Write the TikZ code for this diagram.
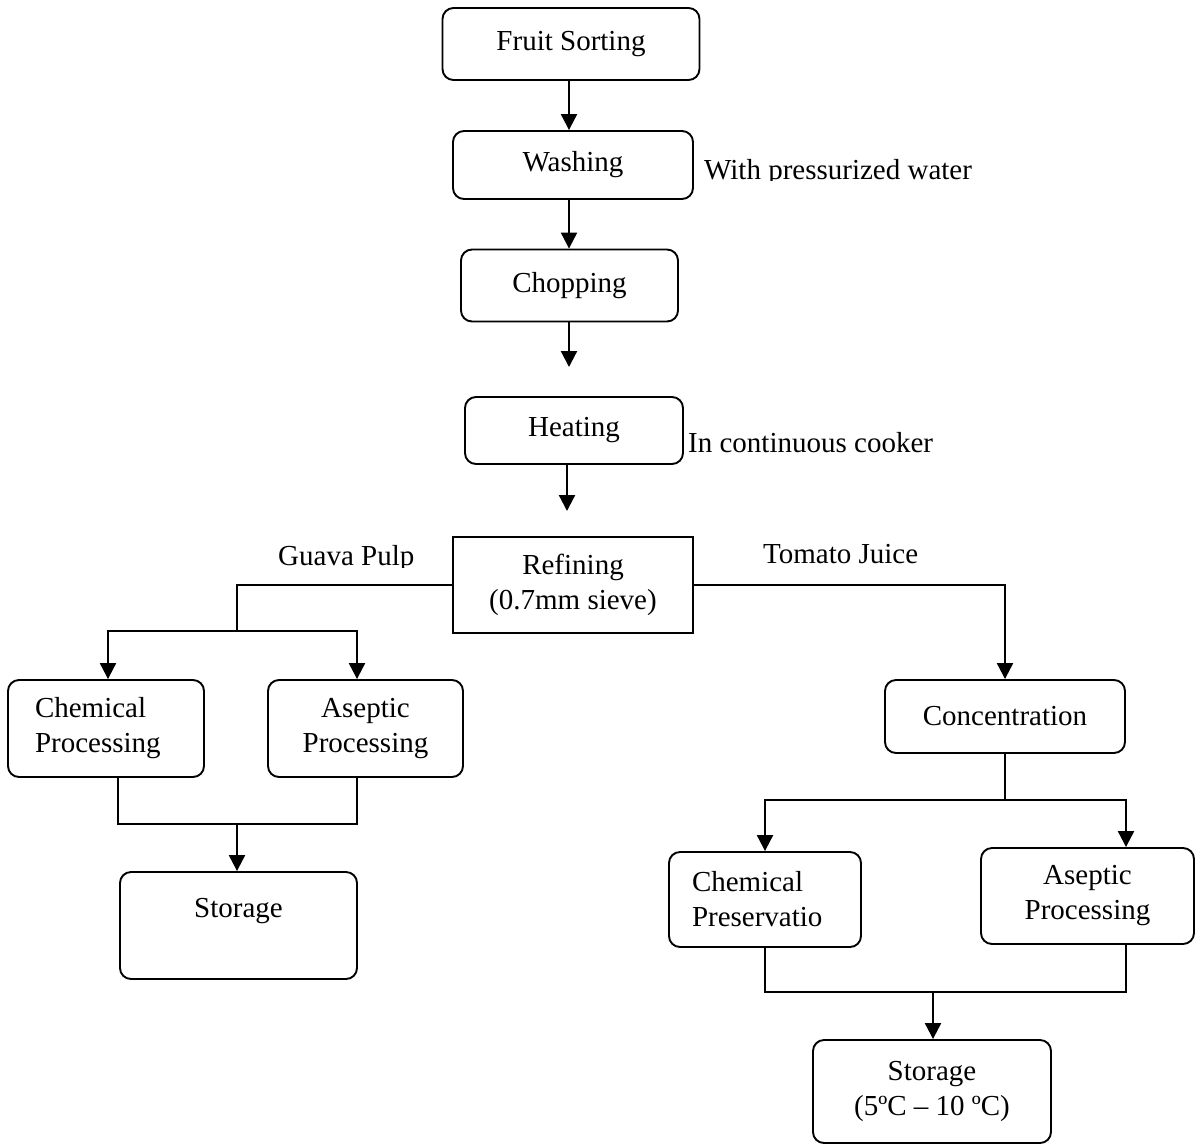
\documentclass[tikz,border=0pt]{standalone}
\usepackage{fontspec}
\setmainfont{Liberation Serif}
\usetikzlibrary{arrows.meta}
\begin{document}
\begin{tikzpicture}[x=1pt,y=-1pt,
  every node/.style={font=\fontsize{29}{35}\selectfont},
  box/.style={draw, line width=1.9pt, rounded corners=11pt, align=center, inner sep=0pt},
  sqbox/.style={draw, line width=2.1pt, align=center, inner sep=0pt},
  lbl/.style={inner sep=0pt, anchor=base west},
  arr/.style={line width=2.2pt, -{Triangle[width=16pt,length=16pt]}},
  ln/.style={line width=1.7pt}]
\useasboundingbox (0,0) rectangle (1196,1144);

% boxes
\node[box, minimum width=257pt, minimum height=72pt] (sort) at (571,44) {Fruit Sorting};
\node[box, minimum width=240pt, minimum height=68pt] (wash) at (573,165) {Washing};
\node[box, minimum width=217pt, minimum height=72pt] (chop) at (569.5,285.5) {Chopping};
\node[box, minimum width=218pt, minimum height=67pt] (heat) at (574,430.5) {Heating};
\node[sqbox, minimum width=240pt, minimum height=96pt] (refine) at (573,585) {Refining\\(0.7mm sieve)};
\node[box, minimum width=196pt, minimum height=97pt, text width=142pt, align=left] (chem1) at (106,728.5) {Chemical\\Processing};
\node[box, minimum width=195pt, minimum height=97pt] (asep1) at (365.5,728.5) {Aseptic\\Processing};
\node[box, minimum width=237pt, minimum height=107pt] (stor1) at (238.5,925.5) {Storage\\\mbox{}};
\node[box, minimum width=240pt, minimum height=73pt] (conc) at (1005,716.5) {Concentration};
\node[box, minimum width=192pt, minimum height=95pt, text width=146pt, align=left] (chem2) at (765,899.5) {Chemical\\Preservatio};
\node[box, minimum width=213pt, minimum height=96pt] (asep2) at (1087.5,896) {Aseptic\\Processing};
\node[box, minimum width=238pt, minimum height=103pt] (stor2) at (932,1091.5) {Storage\\(5ºC – 10 ºC)};

% side labels
\begin{scope}
  \clip (698,140) rectangle (1000,180.5);
  \node[lbl] (press) at (704,179) {With pressurized water};
\end{scope}
\node[lbl] (cooker) at (688,452) {In continuous cooker};
\begin{scope}
  \clip (270,530) rectangle (430,567);
  \node[lbl] (guava) at (278,565.5) {Guava Pulp};
\end{scope}
\node[lbl] (tomato) at (763,563) {Tomato Juice};

% column coordinates
\coordinate (c569) at (569,0);
\coordinate (hA) at (569,367);
\coordinate (rA) at (567,511);
\coordinate (gj) at (237,631);
\coordinate (gl) at (108,631);
\coordinate (gr) at (357,631);
\coordinate (sj1) at (118,824);
\coordinate (sj2) at (357,824);
\coordinate (sjm) at (237,824);
\coordinate (cj) at (1005,800);
\coordinate (cl) at (765,800);
\coordinate (cr) at (1126,800);
\coordinate (dl) at (765,992);
\coordinate (dr) at (1126,992);
\coordinate (dm) at (933,992);

% main chain
\draw[arr] (sort.south -| c569) -- (wash.north -| c569);
\draw[arr] (wash.south -| c569) -- (chop.north -| c569);
\draw[arr] (chop.south -| hA) -- (hA);
\draw[arr] (heat.south -| rA) -- (rA);

% guava branch
\draw[ln] (refine.west) -| (gj);
\draw[arr] (gj) -- (gl) -- (gl |- chem1.north);
\draw[arr] (gj) -- (gr) -- (gr |- asep1.north);
\draw[ln] (sj1 |- chem1.south) -- (sj1) -- (sj2) -- (sj2 |- asep1.south);
\draw[arr] (sjm) -- (sjm |- stor1.north);

% tomato branch
\draw[arr] (refine.east) -| (conc.north);
\draw[ln] (conc.south) -- (cj);
\draw[arr] (cj) -- (cl) -- (cl |- chem2.north);
\draw[arr] (cj) -- (cr) -- (cr |- asep2.north);
\draw[ln] (dl |- chem2.south) -- (dl) -- (dr) -- (dr |- asep2.south);
\draw[arr] (dm) -- (dm |- stor2.north);
\end{tikzpicture}
\end{document}
